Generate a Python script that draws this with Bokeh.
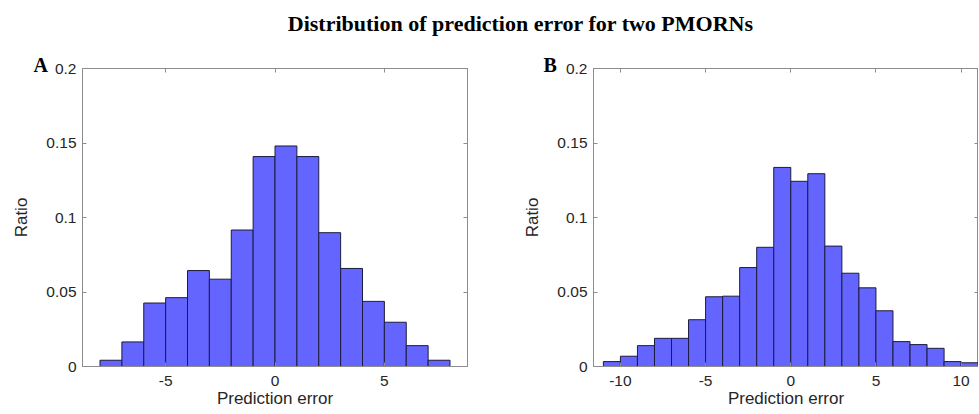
from bokeh.plotting import figure
from bokeh.layouts import column, row
from bokeh.models import Range1d, FixedTicker, LinearAxis
from bokeh.core.properties import value
from bokeh.embed import file_html
from bokeh.resources import INLINE

# ---------------- data ----------------
title_text = "Distribution of prediction error for two PMORNs"

a_bin_left = [-8, -7, -6, -5, -4, -3, -2, -1, 0, 1, 2, 3, 4, 5, 6, 7]
a_bin_right = [-7, -6, -5, -4, -3, -2, -1, 0, 1, 2, 3, 4, 5, 6, 7, 8]
a_ratio = [0.0042, 0.0165, 0.0426, 0.0462, 0.0644, 0.0586, 0.0916, 0.1409,
           0.1480, 0.1409, 0.0898, 0.0658, 0.0437, 0.0297, 0.0140, 0.0042]

b_bin_left = [-11, -10, -9, -8, -7, -6, -5, -4, -3, -2, -1,
              0, 1, 2, 3, 4, 5, 6, 7, 8, 9, 10]
b_bin_right = [-10, -9, -8, -7, -6, -5, -4, -3, -2, -1, 0,
               1, 2, 3, 4, 5, 6, 7, 8, 9, 10, 11]
b_ratio = [0.0033, 0.0069, 0.0140, 0.0189, 0.0189, 0.0314, 0.0468, 0.0472,
           0.0664, 0.0800, 0.1336, 0.1243, 0.1294, 0.0808, 0.0626, 0.0528,
           0.0374, 0.0167, 0.0147, 0.0122, 0.0033, 0.0025]

y_ticks = [0, 0.05, 0.1, 0.15, 0.2]
y_tick_labels = ["0", "0.05", "0.1", "0.15", "0.2"]
a_x_ticks = [-5, 0, 5]
a_x_tick_labels = ["-5", "0", "5"]
b_x_ticks = [-10, -5, 0, 5, 10]
b_x_tick_labels = ["-10", "-5", "0", "5", "10"]

# ---------------- style ----------------
SANS = "Liberation Sans"
SERIF = "Liberation Serif"
FRAME = "#8c8c8c"
TXT = "#262626"
FILL = "#6464ff"
EDGE = "#1c1c3c"
PANEL_H = 369


def style_axis(ax, ticks, labels, show_labels=True):
    ax.ticker = FixedTicker(ticks=ticks)
    ax.major_label_overrides = {t: l for t, l in zip(ticks, labels)}
    ax.major_tick_in = 4
    ax.major_tick_out = 0
    ax.minor_tick_line_color = None
    ax.major_tick_line_color = FRAME
    ax.axis_line_color = FRAME
    ax.major_label_text_font = SANS
    ax.major_label_text_color = TXT
    ax.major_label_text_font_size = "15.5px"
    ax.axis_label_text_font = SANS
    ax.axis_label_text_font_style = "normal"
    ax.axis_label_text_color = TXT
    ax.axis_label_text_font_size = "17px"
    if not show_labels:
        ax.major_label_text_color = None
        ax.major_label_standoff = 0
        ax.axis_label = None


def make_panel(left, right, ratio, xr, xticks, xlabels, width, mbl, mbr,
               letter, letter_offset):
    p = figure(width=width, height=PANEL_H, x_range=Range1d(*xr),
               y_range=Range1d(0, 0.2), output_backend="svg",
               toolbar_location=None, min_border_left=mbl,
               min_border_right=mbr, min_border_top=24, min_border_bottom=47)
    p.grid.visible = False
    p.outline_line_color = FRAME
    p.background_fill_color = "white"
    p.border_fill_color = "white"
    p.quad(left=left, right=right, bottom=0, top=ratio,
           fill_color=FILL, line_color=EDGE, line_width=1)

    xa = p.xaxis[0]
    ya = p.yaxis[0]
    style_axis(xa, xticks, xlabels)
    style_axis(ya, y_ticks, y_tick_labels)
    xa.axis_label = "Prediction error"
    ya.axis_label = "Ratio"
    xa.major_label_standoff = 9
    xa.axis_label_standoff = 0
    ya.major_label_standoff = 6
    ya.axis_label_standoff = 12

    top_ax = LinearAxis()
    style_axis(top_ax, xticks, xlabels, show_labels=False)
    p.add_layout(top_ax, "above")
    right_ax = LinearAxis()
    style_axis(right_ax, y_ticks, y_tick_labels, show_labels=False)
    p.add_layout(right_ax, "right")

    # panel letter drawn as the figure's own title, pushed left of the frame
    p.title.text = letter
    p.title.align = "left"
    p.title.offset = letter_offset
    p.title.standoff = -14
    p.title.text_font = SERIF
    p.title.text_font_style = "bold"
    p.title.text_font_size = "20px"
    p.title.text_color = "black"
    return p


pA = make_panel(a_bin_left, a_bin_right, a_ratio, (-8.8, 8.8),
                a_x_ticks, a_x_tick_labels, 490, 82, 23, "A", -49)
pB = make_panel(b_bin_left, b_bin_right, b_ratio, (-11.58, 11.02),
                b_x_ticks, b_x_tick_labels, 488, 103, 0, "B", -50)

# title strip
pt = figure(width=978, height=44, x_range=Range1d(0, 1), y_range=Range1d(0, 1),
            output_backend="svg", toolbar_location=None,
            min_border=0, x_axis_location=None, y_axis_location=None)
pt.title = None
pt.grid.visible = False
pt.outline_line_color = None
pt.text(x=[0.532], y=[0.477], text=[title_text],
        text_font=value(SERIF), text_font_style="bold",
        text_font_size="22px", text_color="black",
        text_align="center", text_baseline="alphabetic")

layout = column(pt, row(pA, pB))

open("out.html", "w").write(file_html(layout, INLINE))
